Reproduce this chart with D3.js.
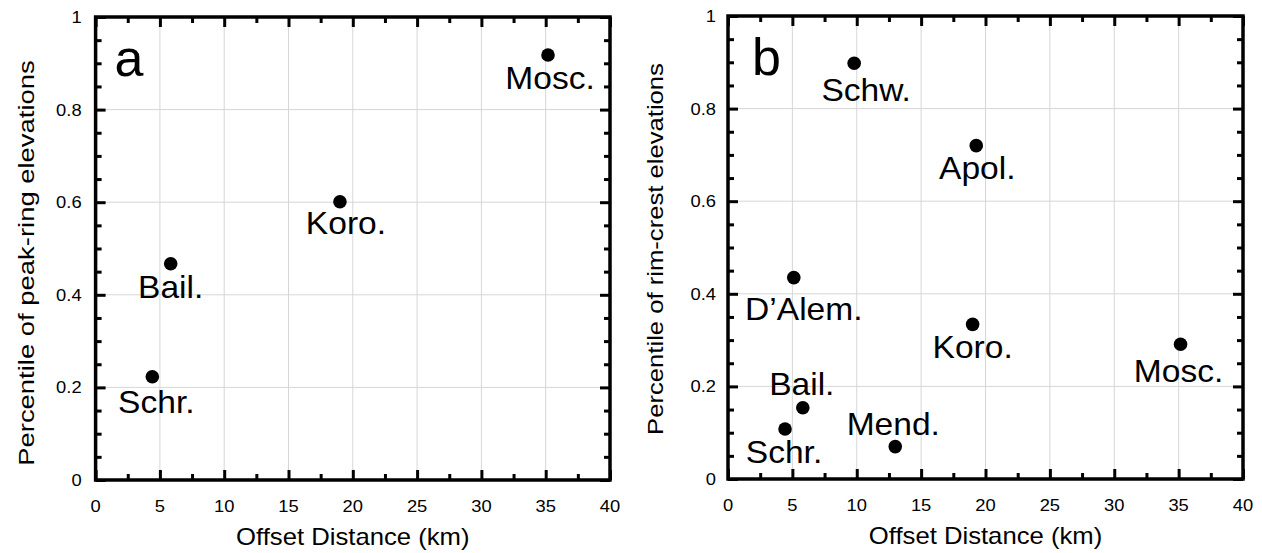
<!DOCTYPE html>
<html>
<head>
<meta charset="utf-8">
<script src="https://cdn.jsdelivr.net/npm/d3@7"></script>
<style>
  html, body { margin: 0; padding: 0; background: #fff; }
  svg { display: block; }
  text { font-family: "Liberation Sans", Arial, Helvetica, sans-serif; fill: #000; }
</style>
</head>
<body>
<svg id="chart" width="1262" height="553"></svg>
<script>
// Panel a: peak-ring elevation percentiles vs. offset distance
const peakRingCraters = ["Mosc.", "Koro.", "Bail.", "Schr."];
const peakRingOffset = [35.18, 19.0, 5.84, 4.41];
const peakRingPercentile = [0.918, 0.601, 0.467, 0.223];

// Panel b: rim-crest elevation percentiles vs. offset distance
const rimCrestCraters = ["Schw.", "Apol.", "D’Alem.", "Koro.", "Mosc.", "Bail.", "Schr.", "Mend."];
const rimCrestOffset = [9.8, 19.28, 5.11, 19.0, 35.15, 5.81, 4.43, 12.99];
const rimCrestPercentile = [0.898, 0.72, 0.435, 0.334, 0.291, 0.154, 0.108, 0.07];

// Axis ticks
const xTickValues = [0, 5, 10, 15, 20, 25, 30, 35, 40];
const xTickLabels = ["0", "5", "10", "15", "20", "25", "30", "35", "40"];
const yTickValues = [0, 0.2, 0.4, 0.6, 0.8, 1];
const yTickLabels = ["0", "0.2", "0.4", "0.6", "0.8", "1"];

// Label placement around each marker (pixels: centre shift, baseline shift)
const peakRingLabelShift = { "Mosc.": [2, 34], "Koro.": [6, 32], "Bail.": [0, 34], "Schr.": [4, 36] };
const rimCrestLabelShift = {
  "Schw.": [12, 38], "Apol.": [1, 33], "D’Alem.": [10, 42], "Koro.": [0, 34],
  "Mosc.": [-2, 38], "Bail.": [-1, -13], "Schr.": [-1, 34], "Mend.": [-2, -12]
};

const svg = d3.select("#chart");

function stretchedText(g, x, y, str, size, sx, anchor, rotate) {
  const t = g.append("g")
    .attr("transform", `translate(${x},${y})` + (rotate ? ` rotate(${rotate})` : "") + ` scale(${sx},1)`);
  t.append("text")
    .attr("text-anchor", anchor || "middle")
    .attr("font-size", size)
    .text(str);
  return t;
}

function drawPanel(cfg) {
  const x = d3.scaleLinear().domain([0, 40]).range([cfg.left, cfg.right]);
  const y = d3.scaleLinear().domain([0, 1]).range([cfg.bottom, cfg.top]);
  const g = svg.append("g");
  const w = cfg.right - cfg.left, h = cfg.bottom - cfg.top;

  // grid
  g.append("g").selectAll("line.gx")
    .data(xTickValues.slice(1, -1)).join("line")
    .attr("x1", d => x(d)).attr("x2", d => x(d))
    .attr("y1", cfg.top).attr("y2", cfg.bottom)
    .attr("stroke", "#d6d6d6").attr("stroke-width", 1);
  g.append("g").selectAll("line.gy")
    .data(yTickValues.slice(1, -1)).join("line")
    .attr("x1", cfg.left).attr("x2", cfg.right)
    .attr("y1", d => y(d)).attr("y2", d => y(d))
    .attr("stroke", "#d6d6d6").attr("stroke-width", 1);

  // inward ticks on all four sides
  const xMajor = xTickValues;
  const xMinor = d3.range(2.5, 40, 5);
  const yMajor = yTickValues;
  const yMinor = d3.range(0.05, 1, 0.05).filter(v => Math.abs(v * 5 - Math.round(v * 5)) > 1e-6);
  const majorLen = 10, minorLen = 6;

  const bottomAxis = d3.axisBottom(x).tickValues(xMajor).tickFormat("").tickSizeOuter(0).tickSize(-majorLen);
  const bottomMinor = d3.axisBottom(x).tickValues(xMinor).tickFormat("").tickSizeOuter(0).tickSize(-minorLen);
  const topAxis = d3.axisTop(x).tickValues(xMajor).tickFormat("").tickSizeOuter(0).tickSize(-majorLen);
  const topMinor = d3.axisTop(x).tickValues(xMinor).tickFormat("").tickSizeOuter(0).tickSize(-minorLen);
  const leftAxis = d3.axisLeft(y).tickValues(yMajor).tickFormat("").tickSizeOuter(0).tickSize(-majorLen);
  const leftMinor = d3.axisLeft(y).tickValues(yMinor).tickFormat("").tickSizeOuter(0).tickSize(-minorLen);
  const rightAxis = d3.axisRight(y).tickValues(yMajor).tickFormat("").tickSizeOuter(0).tickSize(-majorLen);
  const rightMinor = d3.axisRight(y).tickValues(yMinor).tickFormat("").tickSizeOuter(0).tickSize(-minorLen);

  const axes = [
    [bottomAxis, `translate(0,${cfg.bottom})`], [bottomMinor, `translate(0,${cfg.bottom})`],
    [topAxis, `translate(0,${cfg.top})`], [topMinor, `translate(0,${cfg.top})`],
    [leftAxis, `translate(${cfg.left},0)`], [leftMinor, `translate(${cfg.left},0)`],
    [rightAxis, `translate(${cfg.right},0)`], [rightMinor, `translate(${cfg.right},0)`]
  ];
  axes.forEach(([ax, tr]) => {
    const a = g.append("g").attr("transform", tr).call(ax);
    a.select(".domain").remove();
    a.selectAll(".tick line").attr("stroke", "#000").attr("stroke-width", 3);
  });

  // frame
  g.append("rect")
    .attr("x", cfg.left).attr("y", cfg.top).attr("width", w).attr("height", h)
    .attr("fill", "none").attr("stroke", "#000").attr("stroke-width", 3.5);

  // tick labels
  xTickValues.forEach((v, i) => {
    stretchedText(g, x(v), cfg.bottom + 32, xTickLabels[i], 17, 1.08, "middle");
  });
  yTickValues.forEach((v, i) => {
    stretchedText(g, cfg.left - cfg.yLabelGap, y(v) + 6, yTickLabels[i], 17, 1.08, "end");
  });

  // axis titles
  stretchedText(g, (cfg.left + cfg.right) / 2, cfg.bottom + 65, "Offset Distance (km)", 24, 1.07, "middle");
  stretchedText(g, cfg.yTitleX, cfg.yTitleY, cfg.yTitle, 22.5, cfg.yTitleStretch, "middle", -90);

  // panel letter
  g.append("text")
    .attr("x", cfg.left + cfg.letterDx).attr("y", cfg.top + 59)
    .attr("font-size", 52)
    .text(cfg.letter);

  // markers
  const pts = cfg.names.map((n, i) => ({ name: n, xv: cfg.xs[i], yv: cfg.ys[i] }));
  g.append("g").selectAll("circle")
    .data(pts).join("circle")
    .attr("cx", d => x(d.xv)).attr("cy", d => y(d.yv))
    .attr("r", 6.8).attr("fill", "#000");

  // marker labels
  pts.forEach(d => {
    const s = cfg.shift[d.name];
    stretchedText(g, x(d.xv) + s[0], y(d.yv) + s[1], d.name, 30.5, 1.1, "middle");
  });
}

drawPanel({
  left: 95.6, right: 610, top: 17, bottom: 480,
  names: peakRingCraters, xs: peakRingOffset, ys: peakRingPercentile, shift: peakRingLabelShift,
  yTitle: "Percentile of peak-ring elevations", yTitleX: 34, yTitleY: 263, yTitleStretch: 1.22,
  yLabelGap: 14, letter: "a", letterDx: 19
});

drawPanel({
  left: 728, right: 1243, top: 16, bottom: 479,
  names: rimCrestCraters, xs: rimCrestOffset, ys: rimCrestPercentile, shift: rimCrestLabelShift,
  yTitle: "Percentile of rim-crest elevations", yTitleX: 663, yTitleY: 249, yTitleStretch: 1.14,
  yLabelGap: 12, letter: "b", letterDx: 24
});
</script>
</body>
</html>
